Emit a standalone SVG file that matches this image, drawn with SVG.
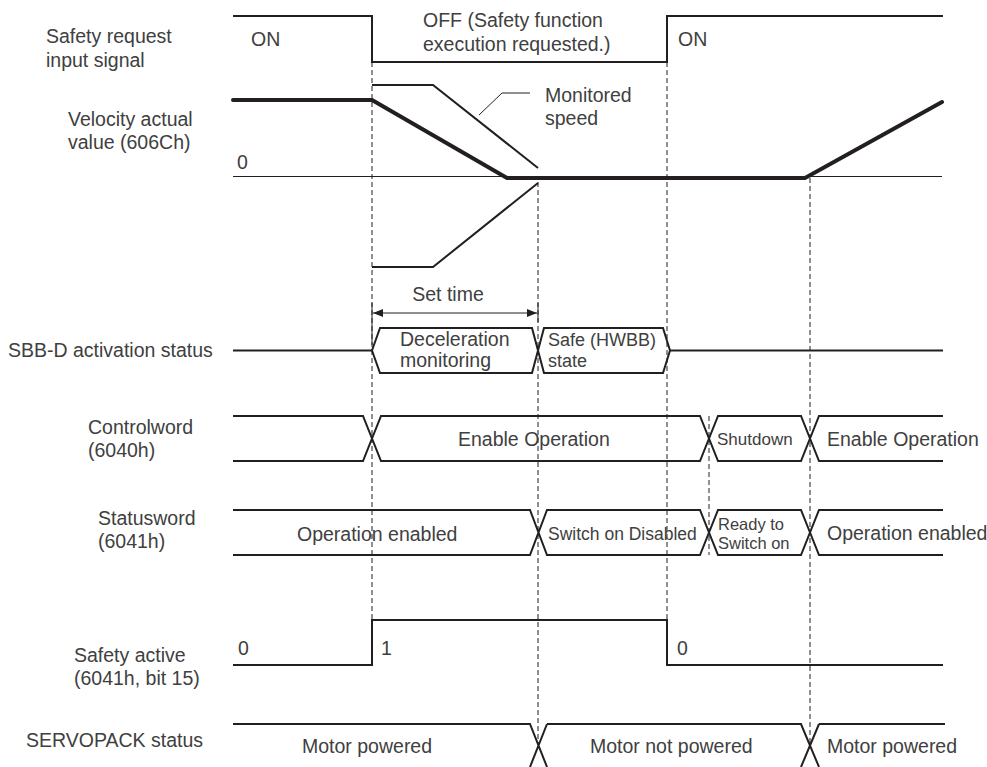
<svg xmlns="http://www.w3.org/2000/svg" width="987" height="767" viewBox="0 0 987 767">
<style>
text{font-family:"Liberation Sans",Arial,sans-serif;font-size:19.5px;fill:#404040}
.sm{font-size:17.5px}
.sig{fill:none;stroke:#231f20;stroke-width:2;stroke-linejoin:miter}
.thick{fill:none;stroke:#231f20;stroke-width:4;stroke-linecap:round;stroke-linejoin:round}
.thin{fill:none;stroke:#231f20;stroke-width:1}
.dash{fill:none;stroke:#231f20;stroke-width:1;stroke-dasharray:5 3}
</style>
<defs>
<marker id="ah" viewBox="0 0 10 8" refX="10" refY="4" markerWidth="10" markerHeight="8" markerUnits="userSpaceOnUse" orient="auto-start-reverse">
<path d="M0,0 L10,4 L0,8 z" fill="#231f20"/>
</marker>
</defs>
<rect width="987" height="767" fill="#fff"/>
<g id="labels">
<text x="46" y="43">Safety request</text>
<text x="46" y="67">input signal</text>
<text x="68" y="126">Velocity actual</text>
<text x="68" y="149">value (606Ch)</text>
<text x="8" y="357">SBB-D activation status</text>
<text x="88" y="434">Controlword</text>
<text x="88" y="457">(6040h)</text>
<text x="98" y="525">Statusword</text>
<text x="98" y="548">(6041h)</text>
<text x="74" y="662">Safety active</text>
<text x="74" y="685">(6041h, bit 15)</text>
<text x="26" y="747">SERVOPACK status</text>
</g>
<g id="connectors">
<line class="dash" x1="372" y1="62" x2="372" y2="620"/>
<line class="dash" x1="538" y1="182" x2="538" y2="745"/>
<line class="dash" x1="667" y1="62" x2="667" y2="620"/>
<line class="dash" x1="709" y1="416" x2="709" y2="555"/>
<line class="dash" x1="810" y1="178" x2="810" y2="745"/>
<line class="thin" x1="372" y1="303" x2="372" y2="345" stroke-width="1.3"/>
<line class="thin" x1="538" y1="303" x2="538" y2="322" stroke-width="1.3"/>
<line class="thin" x1="373" y1="313" x2="537" y2="313" marker-start="url(#ah)" marker-end="url(#ah)"/>
</g>
<g id="safety-request">
<polyline class="sig" points="233,16 372,16 372,62 667,62 667,16 943,16"/>
<text x="251" y="46">ON</text>
<text x="423" y="27">OFF (Safety function</text>
<text x="423" y="51">execution requested.)</text>
<text x="678" y="46">ON</text>
</g>
<g id="velocity">
<line class="thin" x1="233" y1="176.5" x2="942" y2="176.5"/>
<text x="237" y="169">0</text>
<polyline class="thick" points="233,100 372,100 507,178 805,178 942,102"/>
<polyline class="sig" points="372,85 433,85 538,168"/>
<polyline class="sig" points="372,267 433,267 538,183"/>
<polyline class="thin" stroke-width="1.3" points="479,115 502,93 530,93"/>
<text x="545" y="102">Monitored</text>
<text x="545" y="125">speed</text>
<text x="448" y="301" text-anchor="middle">Set time</text>
</g>
<g id="sbb-d">
<line class="sig" x1="233" y1="350.5" x2="372" y2="350.5"/>
<polygon class="sig" points="372,350.5 380,328 532,328 538,350.5 532,373 380,373"/>
<polygon class="sig" points="538,350.5 544,328 663,328 670,350.5 663,373 544,373"/>
<line class="sig" x1="670" y1="350.5" x2="943" y2="350.5"/>
<text x="400" y="346">Deceleration</text>
<text x="400" y="367">monitoring</text>
<text class="sm" x="548" y="346" style="font-size:18px">Safe (HWBB)</text>
<text class="sm" x="548" y="367" style="font-size:18px">state</text>
</g>
<g id="controlword">
<path class="sig" d="M233,416 H363 L381,461 H700 L718,416 H801 L819,461 H943 M233,461 H363 L381,416 H700 L718,461 H801 L819,416 H943"/>
<text x="458" y="446">Enable Operation</text>
<text x="717" y="445" style="font-size:17px">Shutdown</text>
<text x="827" y="446">Enable Operation</text>
</g>
<g id="statusword">
<path class="sig" d="M233,510 H530 L547,555 H700 L718,510 H801 L819,555 H943 M233,555 H530 L547,510 H700 L718,555 H801 L819,510 H943"/>
<text x="297" y="541">Operation enabled</text>
<text class="sm" x="548" y="540">Switch on Disabled</text>
<text x="718" y="530" style="font-size:16.5px">Ready to</text>
<text x="718" y="549" style="font-size:16.5px">Switch on</text>
<text x="827" y="540">Operation enabled</text>
</g>
<g id="safety-active">
<polyline class="sig" points="233,665 372,665 372,620 667,620 667,665 943,665"/>
<text x="238" y="655">0</text>
<text x="381" y="655">1</text>
<text x="677" y="655">0</text>
</g>
<g id="servopack">
<path class="sig" d="M233,724 H530 L547,767 M547,724 L530,767 M547,724 H801 L819,767 M819,724 L801,767 M819,724 H945"/>
<text x="302" y="753">Motor powered</text>
<text x="590" y="753">Motor not powered</text>
<text x="827" y="753">Motor powered</text>
</g>
</svg>
